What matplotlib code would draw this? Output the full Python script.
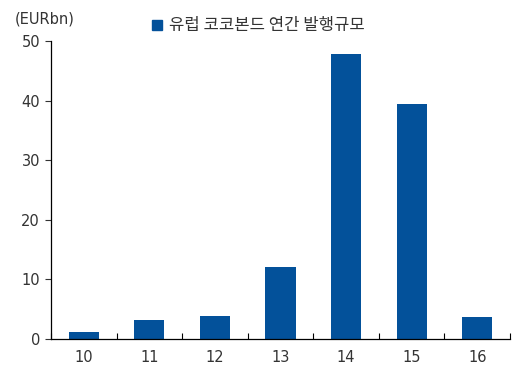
import matplotlib
matplotlib.use('Agg')
import matplotlib.pyplot as plt
from matplotlib.patches import Rectangle

plt.rcParams['font.family'] = ['DejaVu Sans', 'Noto Sans CJK KR']

# Data
years = ['10', '11', '12', '13', '14', '15', '16']
issuance = [1.1, 3.2, 3.9, 12.1, 47.8, 39.4, 3.7]
series_name = '유럽 코코본드 연간 발행규모'
bar_color = '#03519a'
text_color = '#333333'

fig = plt.figure(figsize=(5.21, 3.70), dpi=100)
ax = fig.add_axes([0.098, 0.084, 0.881, 0.805])

x = list(range(len(years)))
ax.bar(x, issuance, width=0.46, color=bar_color, label=series_name)

ax.set_xlim(-0.5, len(years) - 0.5)
ax.set_ylim(0, 50)
ax.set_yticks([0, 10, 20, 30, 40, 50])
ax.set_xticks(x)
ax.set_xticklabels(years)
ax.set_xticks([i - 0.5 for i in range(len(years) + 1)], minor=True)

ax.tick_params(axis='x', which='major', length=0, pad=8, labelsize=10.5, colors=text_color)
ax.tick_params(axis='x', which='minor', direction='in', length=4, width=0.8)
ax.tick_params(axis='y', direction='out', length=4, width=0.8, pad=4, labelsize=10.5,
               colors=text_color)

for s in ['top', 'right']:
    ax.spines[s].set_visible(False)
ax.spines['left'].set_linewidth(0.9)
ax.spines['bottom'].set_linewidth(0.9)

fig.text(0.028, 0.948, '(EURbn)', fontsize=10.5, color=text_color, va='center')

# legend
fig.patches.append(Rectangle((0.292, 0.919), 0.019, 0.027, transform=fig.transFigure,
                             color=bar_color))
fig.text(0.325, 0.931, series_name, fontsize=12, color=text_color, va='center',
         family=['Noto Sans CJK KR'])

fig.savefig('out.png', dpi=100)
